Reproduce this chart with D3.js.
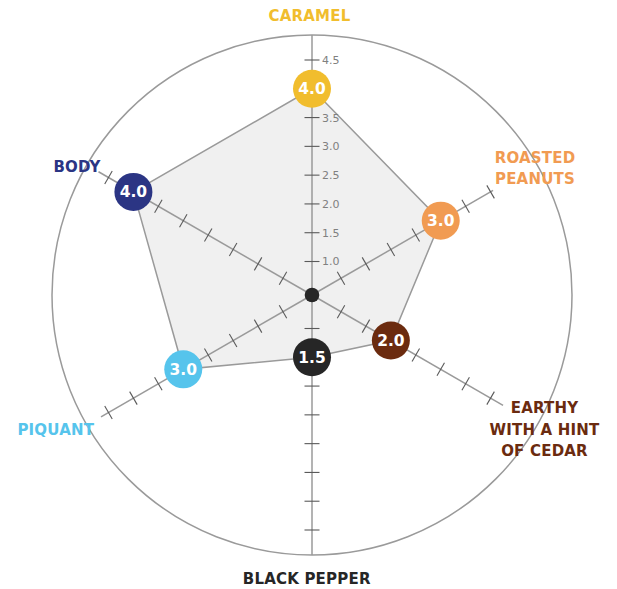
<!DOCTYPE html>
<html>
<head>
<meta charset="utf-8">
<script src="https://cdn.jsdelivr.net/npm/d3@7"></script>
<style>
  html, body { margin: 0; padding: 0; background: #ffffff; }
  svg { display: block; }
</style>
</head>
<body>
<svg id="chart" width="617" height="589"></svg>
<script>
// ---- data ----
const categories = ["CARAMEL", "ROASTED\nPEANUTS", "EARTHY\nWITH A HINT\nOF CEDAR", "BLACK PEPPER", "PIQUANT", "BODY"];
const values = [4.0, 3.0, 2.0, 1.5, 3.0, 4.0];
const colors = ["#F1BD2D", "#F19B52", "#6B2B0F", "#262626", "#56C4EC", "#2B3584"];
const tickValues = [1.0, 1.5, 2.0, 2.5, 3.0, 3.5, 4.0, 4.5];
const tickLabels = ["1.0", "1.5", "2.0", "2.5", "3.0", "3.5", "4.0", "4.5"];
const axisMaxTick = [4.5, 4.0, 4.0, 4.5, 4.5, 4.5];
const axisEnd = [4.96, 4.05, 4.25, 4.96, 4.65, 4.7];

// ---- layout ----
const svg = d3.select("#chart");
const cx = 312, cy = 295, R = 260;
const r = d3.scaleLinear().domain([1, 4.5]).range([33.5, 235]);
const angle = d3.scaleLinear().domain([0, categories.length]).range([0, 2 * Math.PI]);
const pt = (i, rad) => [cx + rad * Math.sin(angle(i)), cy - rad * Math.cos(angle(i))];

// outer circle
svg.append("circle").attr("cx", cx).attr("cy", cy).attr("r", R)
  .attr("fill", "none").attr("stroke", "#9a9a9a").attr("stroke-width", 1.5);

// polygon
const line = d3.line().curve(d3.curveLinearClosed);
svg.append("path")
  .attr("d", line(values.map((v, i) => pt(i, r(v)))))
  .attr("fill", "#f0f0f0").attr("stroke", "#9a9a9a").attr("stroke-width", 1.5);

// axes
categories.forEach((c, i) => {
  const end = Math.min(R, r(axisEnd[i]));
  const [x2, y2] = pt(i, end);
  svg.append("line").attr("x1", cx).attr("y1", cy).attr("x2", x2).attr("y2", y2)
    .attr("stroke", "#9a9a9a").attr("stroke-width", 1.5);
  const a = angle(i);
  const px = Math.cos(a), py = Math.sin(a); // perpendicular direction
  tickValues.filter(t => t <= axisMaxTick[i] + 1e-9).forEach(t => {
    const [tx, ty] = pt(i, r(t));
    svg.append("line")
      .attr("x1", tx - 7.5 * px).attr("y1", ty - 7.5 * py)
      .attr("x2", tx + 7.5 * px).attr("y2", ty + 7.5 * py)
      .attr("stroke", "#5a5a5a").attr("stroke-width", 1.1);
  });
});

// tick labels on top axis
tickValues.forEach((t, k) => {
  if (t === 4.0) return;
  const [tx, ty] = pt(0, r(t));
  svg.append("text").attr("x", tx + 10).attr("y", ty)
    .attr("dy", "0.36em")
    .attr("font-family", "DejaVu Sans").attr("font-size", 11)
    .attr("fill", "#808080").text(tickLabels[k]);
});

// center dot
svg.append("circle").attr("cx", cx).attr("cy", cy).attr("r", 7.3).attr("fill", "#262626");

// value circles
values.forEach((v, i) => {
  const [x, y] = pt(i, r(v));
  svg.append("circle").attr("cx", x).attr("cy", y).attr("r", 19).attr("fill", colors[i]);
  svg.append("text").attr("x", x).attr("y", y).attr("dy", "0.36em")
    .attr("text-anchor", "middle")
    .attr("font-family", "DejaVu Sans").attr("font-weight", "bold").attr("font-size", 15.5)
    .attr("fill", "#ffffff").text(d3.format(".1f")(v));
});

// category labels
const labelPos = [[309.5, 21], [535, 162.5], [544.5, 413.3], [306.7, 584], [55.8, 435], [77, 172]];
categories.forEach((c, i) => {
  const t = svg.append("text")
    .attr("x", labelPos[i][0]).attr("y", labelPos[i][1])
    .attr("text-anchor", "middle")
    .attr("font-family", "DejaVu Sans").attr("font-weight", "bold").attr("font-size", 15)
    .attr("letter-spacing", 0.2)
    .attr("fill", colors[i]);
  c.split("\n").forEach((s, k) => {
    t.append("tspan").attr("x", labelPos[i][0]).attr("dy", k === 0 ? 0 : 21.3).text(s);
  });
});
</script>
</body>
</html>
